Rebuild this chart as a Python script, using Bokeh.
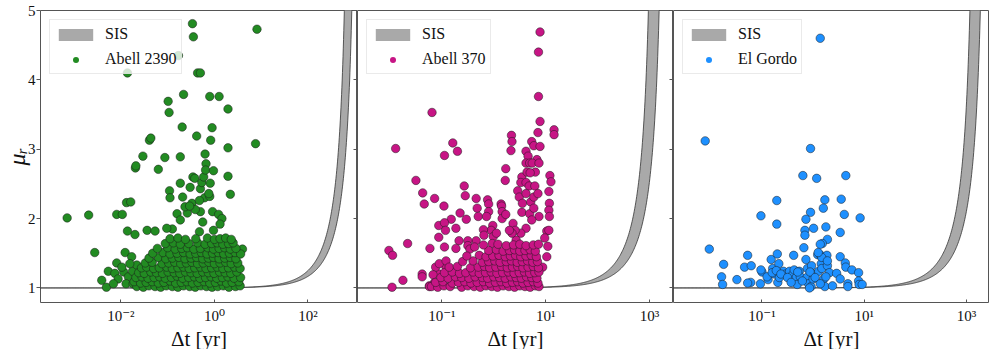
import numpy as np
from bokeh.plotting import figure
from bokeh.models import (Range1d, FixedTicker, LinearAxis, CustomJSTickFormatter,
                          Legend, LegendItem)
from bokeh.layouts import row
from bokeh.embed import file_html
from bokeh.resources import INLINE

SERIF = "'Liberation Serif', 'DejaVu Serif', serif"

# ---------------- data (log10 of time delay in yr, magnification ratio) ----------------
cluster_names = ["Abell 2390", "Abell 370", "El Gordo"]
cluster_colors = ["#228B22", "#C71585", "#1E90FF"]

y_ticks = [1, 2, 3, 4, 5]
x_ticks_a2390 = [1e-2, 1e0, 1e2]
x_ticks_a370 = [1e-1, 1e1, 1e3]
x_ticks_elgordo = [1e-1, 1e1, 1e3]

# x-limits (log10 yr) of each panel
xlim_a2390 = (-3.72, 3.06)
xlim_a370 = (-2.625, 3.46)
xlim_elgordo = (-2.73, 3.45)
mu_lim = (0.79, 5.0)

# SIS band: characteristic max time delay (yr) for lower / upper edge
sis_T_a2390 = (900, 1300)
sis_T_a370 = (1420, 2290)
sis_T_elgordo = (1750, 2800)

a2390_points = [
    (-3.15, 2.01), (-2.69, 2.05), (-2.56, 1.51), (-2.41, 1.11), (-2.31, 1.01), (-2.09, 1.36),
    (-2.09, 2.06), (-1.97, 2.06), (-1.86, 4.10), (-1.88, 2.23), (-1.79, 2.24), (-1.86, 1.82),
    (-1.70, 1.77), (-1.91, 1.51), (-1.77, 1.45), (-1.69, 2.73), (-1.68, 2.76), (-1.53, 2.90),
    (-1.44, 1.83), (-1.39, 3.13), (-1.36, 3.16), (-1.20, 2.71), (-1.06, 2.88), (-0.99, 3.69),
    (-0.97, 3.53), (-0.96, 2.40), (-0.95, 2.30), (-0.73, 2.89), (-0.73, 2.51), (-0.69, 3.32),
    (-0.66, 3.79), (-0.68, 2.31), (-0.77, 4.35), (-0.47, 4.81), (-0.45, 4.62), (-0.38, 3.19),
    (-0.36, 4.10), (-0.30, 4.10), (-0.46, 2.60), (-0.42, 2.58), (-0.52, 2.45), (-0.48, 2.22),
    (-0.30, 2.43), (-0.27, 2.52), (-0.23, 2.60), (-0.20, 2.93), (-0.18, 2.79), (-0.19, 2.70),
    (-0.21, 2.30), (-0.10, 3.76), (-0.05, 3.31), (-0.08, 3.13), (-0.09, 2.51), (-0.10, 2.32),
    (-0.02, 2.69), (0.10, 3.76), (0.29, 3.58), (0.29, 3.02), (0.29, 2.61), (0.34, 2.35),
    (0.88, 3.08), (0.91, 4.73), (-0.04, 2.10), (0.09, 2.06), (0.16, 2.00), (0.12, 1.92),
    (-0.25, 1.95), (-0.30, 2.10), (-0.41, 2.13), (-0.80, 2.07), (-0.58, 2.08), (-0.63, 2.17),
    (-0.53, 2.18), (-0.73, 1.98), (-0.90, 1.85), (-1.02, 1.86), (-1.27, 1.82), (-0.32, 1.81),
    (-0.02, 1.83), (0.41, 1.56), (0.60, 1.56), (-0.32, 2.26), (-0.12, 2.36),
    (-2.27, 1.24), (-2.13, 1.21), (-2.06, 1.13), (-2.16, 1.06), (-1.94, 1.23), (-1.84, 1.16),
    (-1.75, 1.24), (-1.89, 1.06), (-1.74, 1.06), (-1.66, 1.33), (-1.98, 1.30), (-1.81, 1.35),
    (-1.66, 1.02), (-1.52, 1.01), (-1.40, 1.03), (-1.27, 1.02), (-1.15, 1.01), (-1.03, 1.03),
    (-0.90, 1.02), (-0.78, 1.01), (-0.66, 1.03), (-0.53, 1.02), (-0.41, 1.01), (-0.29, 1.03),
    (-0.17, 1.02), (-0.05, 1.01), (0.07, 1.02), (0.19, 1.03), (0.31, 1.01), (0.45, 1.02), (0.55, 1.03),
    (-1.72, 1.09), (-1.58, 1.07), (-1.46, 1.08), (-1.33, 1.09), (-1.20, 1.07), (-1.08, 1.08),
    (-0.95, 1.10), (-0.83, 1.07), (-0.71, 1.08), (-0.59, 1.09), (-0.47, 1.07), (-0.35, 1.08),
    (-0.22, 1.09), (-0.10, 1.07), (0.02, 1.08), (0.14, 1.10), (0.26, 1.07), (0.38, 1.08), (0.52, 1.09),
    (-1.68, 1.15), (-1.55, 1.16), (-1.42, 1.14), (-1.29, 1.15), (-1.17, 1.16), (-1.05, 1.14),
    (-0.92, 1.15), (-0.80, 1.17), (-0.68, 1.14), (-0.55, 1.15), (-0.43, 1.16), (-0.31, 1.14),
    (-0.19, 1.15), (-0.07, 1.16), (0.05, 1.14), (0.17, 1.15), (0.29, 1.16), (0.42, 1.14), (0.56, 1.15),
    (-1.62, 1.22), (-1.50, 1.21), (-1.36, 1.23), (-1.24, 1.22), (-1.11, 1.21), (-0.99, 1.23),
    (-0.86, 1.22), (-0.74, 1.21), (-0.62, 1.23), (-0.50, 1.22), (-0.37, 1.21), (-0.25, 1.23),
    (-0.13, 1.22), (-0.01, 1.21), (0.11, 1.23), (0.23, 1.22), (0.35, 1.21), (0.48, 1.23),
    (-1.56, 1.29), (-1.45, 1.30), (-1.30, 1.28), (-1.18, 1.29), (-1.02, 1.30), (-0.90, 1.28),
    (-0.78, 1.29), (-0.66, 1.30), (-0.54, 1.28), (-0.42, 1.29), (-0.30, 1.30), (-0.18, 1.28),
    (-0.06, 1.29), (0.06, 1.30), (0.18, 1.28), (0.30, 1.29), (0.43, 1.30), (0.55, 1.28),
    (-1.48, 1.36), (-1.33, 1.37), (-1.12, 1.35), (-0.98, 1.36), (-0.85, 1.37), (-0.72, 1.35),
    (-0.60, 1.36), (-0.48, 1.37), (-0.36, 1.35), (-0.24, 1.36), (-0.12, 1.37), (0.00, 1.35),
    (0.12, 1.36), (0.24, 1.37), (0.36, 1.35), (0.50, 1.36),
    (-1.40, 1.43), (-1.20, 1.44), (-1.04, 1.42), (-0.90, 1.43), (-0.76, 1.44), (-0.63, 1.42),
    (-0.50, 1.43), (-0.38, 1.44), (-0.25, 1.42), (-0.13, 1.43), (-0.02, 1.44), (0.10, 1.42),
    (0.22, 1.43), (0.34, 1.44), (0.46, 1.42),
    (-1.32, 1.50), (-1.10, 1.51), (-0.95, 1.49), (-0.80, 1.50), (-0.66, 1.51), (-0.52, 1.49),
    (-0.40, 1.50), (-0.28, 1.51), (-0.16, 1.49), (-0.04, 1.50), (0.08, 1.51), (0.20, 1.49),
    (0.32, 1.50), (0.44, 1.51), (0.56, 1.49),
    (-1.22, 1.57), (-1.00, 1.58), (-0.84, 1.56), (-0.70, 1.57), (-0.58, 1.58), (-0.44, 1.56),
    (-0.30, 1.57), (-0.14, 1.58), (-0.02, 1.56), (0.10, 1.57), (0.22, 1.58), (0.34, 1.56), (0.46, 1.57),
    (-1.05, 1.64), (-0.88, 1.65), (-0.73, 1.63), (-0.55, 1.64), (-0.36, 1.65), (-0.20, 1.63),
    (-0.06, 1.64), (0.06, 1.65), (0.18, 1.63), (0.30, 1.64), (0.40, 1.65),
    (-0.95, 1.71), (-0.78, 1.72), (-0.62, 1.70), (-0.40, 1.71), (-0.15, 1.72), (0.00, 1.70),
    (0.12, 1.71), (0.24, 1.72), (0.36, 1.70),
]

a370_points = [
    (0.89, 4.69), (0.86, 4.40), (0.86, 3.76), (0.89, 3.40), (1.16, 3.28), (1.16, 3.21), (0.85, 3.24),
    (-1.19, 3.53), (-1.89, 3.01), (-0.79, 3.09), (-0.70, 2.97), (-0.95, 2.91), (0.34, 3.20),
    (0.35, 3.11), (0.33, 2.98), (0.23, 2.72), (0.22, 2.55), (0.54, 2.60), (0.73, 3.11), (0.77, 3.05),
    (0.89, 3.04), (0.83, 2.85), (0.62, 2.97), (0.66, 2.90), (0.62, 2.80), (0.69, 2.80), (0.74, 2.80),
    (0.87, 2.80), (0.80, 2.67), (0.64, 2.67), (0.70, 2.66), (0.52, 2.52), (0.62, 2.52), (0.68, 2.47),
    (0.79, 2.47), (1.08, 2.62), (1.10, 2.53), (1.06, 2.39), (1.07, 2.22), (1.06, 2.12), (1.07, 2.03),
    (1.02, 1.82), (1.06, 1.83), (0.98, 1.72), (-1.50, 2.55), (-1.37, 2.37), (-1.34, 2.21),
    (-1.14, 2.29), (-0.96, 2.18), (-0.57, 2.47), (-0.55, 2.33), (-0.65, 2.08), (-0.82, 1.99),
    (-0.53, 1.99), (-1.06, 1.90), (-0.95, 1.94), (-0.93, 1.83), (-1.06, 1.73), (-0.73, 1.86),
    (-0.95, 1.59), (-1.23, 1.57), (-1.66, 1.64), (-2.02, 1.54), (-1.95, 1.47), (-1.75, 1.11),
    (-1.96, 1.01), (-1.38, 1.20), (-1.38, 1.16), (-1.24, 1.03), (-0.34, 2.29), (-0.32, 2.15),
    (-0.30, 2.03), (-0.12, 2.27), (-0.10, 2.21), (-0.10, 2.10), (-0.14, 2.03), (0.14, 2.21),
    (0.15, 2.18), (0.16, 2.10), (0.16, 2.00), (0.46, 2.40), (0.49, 2.31), (0.55, 2.22), (0.54, 2.09),
    (0.62, 2.36), (0.71, 2.24), (0.77, 2.31), (0.85, 2.36), (0.69, 2.07), (0.77, 2.15), (0.87, 2.03),
    (0.73, 1.98), (0.62, 1.86), (0.52, 1.79), (0.43, 1.69), (-0.02, 1.90), (-0.05, 1.83),
    (-0.01, 1.74), (-0.03, 1.64), (0.05, 1.79), (0.37, 1.93), (0.41, 1.83), (0.35, 1.79), (0.23, 2.06),
    (0.30, 1.83), (-0.20, 1.84), (-0.19, 1.76), (-0.34, 1.68), (-0.50, 1.68), (-0.50, 1.61),
    (-0.46, 1.56), (-0.37, 1.59), (-0.67, 1.68), (-0.73, 1.57), (0.94, 1.30), (1.02, 1.45), (1.04, 1.60),
    (-1.24, 1.02), (-1.14, 1.08), (-1.05, 1.20), (-0.92, 1.30), (-1.12, 1.30), (-0.99, 1.13),
    (-1.17, 1.19), (-1.05, 1.35), (-0.92, 1.39),
    (-1.20, 1.02), (-1.08, 1.01), (-0.96, 1.03), (-0.84, 1.02), (-0.62, 1.01), (-0.50, 1.03),
    (-0.38, 1.02), (-0.26, 1.01), (-0.15, 1.03), (-0.04, 1.02), (0.07, 1.01), (0.18, 1.03),
    (0.29, 1.02), (0.40, 1.01), (0.50, 1.03), (0.60, 1.02), (0.70, 1.01), (0.80, 1.03), (0.87, 1.02),
    (-1.12, 1.08), (-0.98, 1.09), (-0.80, 1.07), (-0.68, 1.08), (-0.56, 1.09), (-0.44, 1.07),
    (-0.32, 1.08), (-0.20, 1.09), (-0.08, 1.07), (0.03, 1.08), (0.14, 1.09), (0.25, 1.07),
    (0.36, 1.08), (0.46, 1.09), (0.56, 1.07), (0.66, 1.08), (0.76, 1.09), (0.85, 1.07),
    (-1.02, 1.15), (-0.88, 1.14), (-0.74, 1.16), (-0.62, 1.15), (-0.48, 1.14), (-0.36, 1.16),
    (-0.22, 1.15), (-0.12, 1.14), (0.00, 1.16), (0.11, 1.15), (0.22, 1.14), (0.33, 1.16),
    (0.43, 1.15), (0.53, 1.14), (0.63, 1.16), (0.73, 1.15), (0.83, 1.14),
    (-0.95, 1.22), (-0.80, 1.23), (-0.66, 1.21), (-0.54, 1.22), (-0.40, 1.23), (-0.28, 1.21),
    (-0.16, 1.22), (-0.05, 1.23), (0.06, 1.21), (0.17, 1.22), (0.28, 1.23), (0.39, 1.21),
    (0.49, 1.22), (0.59, 1.23), (0.69, 1.21), (0.79, 1.22), (0.87, 1.23),
    (-0.86, 1.30), (-0.70, 1.31), (-0.45, 1.29), (-0.30, 1.30), (-0.18, 1.31), (-0.08, 1.29),
    (0.04, 1.30), (0.15, 1.31), (0.26, 1.29), (0.36, 1.30), (0.46, 1.31), (0.56, 1.29),
    (0.66, 1.30), (0.76, 1.31), (0.86, 1.29),
    (-0.60, 1.38), (-0.40, 1.39), (-0.22, 1.37), (-0.10, 1.38), (0.02, 1.39), (0.12, 1.37),
    (0.24, 1.38), (0.34, 1.39), (0.45, 1.37), (0.55, 1.38), (0.65, 1.39), (0.75, 1.37), (0.84, 1.38),
    (-0.52, 1.46), (-0.28, 1.47), (-0.15, 1.45), (-0.02, 1.46), (0.10, 1.47), (0.22, 1.45),
    (0.32, 1.46), (0.42, 1.47), (0.52, 1.45), (0.62, 1.46), (0.72, 1.47), (0.82, 1.45),
    (-0.10, 1.54), (0.05, 1.55), (0.18, 1.53), (0.30, 1.54), (0.40, 1.55), (0.50, 1.53),
    (0.60, 1.54), (0.70, 1.55), (0.80, 1.53),
    (-0.20, 1.62), (0.08, 1.63), (0.24, 1.61), (0.38, 1.62), (0.50, 1.63), (0.62, 1.61),
    (0.76, 1.62), (0.86, 1.63),
]

elgordo_points = [
    (0.14, 4.60), (-2.11, 3.12), (-0.05, 3.01), (-0.20, 2.62), (0.07, 2.58), (0.64, 2.62),
    (-0.71, 2.26), (0.23, 2.27), (0.55, 2.28), (-1.02, 2.04), (-0.05, 2.09), (0.20, 2.15),
    (0.61, 2.06), (0.92, 2.01), (-0.71, 1.92), (-0.14, 1.99), (-0.16, 1.83), (-0.16, 1.76),
    (0.01, 1.86), (0.25, 1.88), (0.28, 1.70), (0.53, 1.80), (0.18, 1.64), (-2.03, 1.56),
    (-1.28, 1.47), (-1.75, 1.34), (-1.79, 1.16), (-1.77, 1.05), (-1.49, 1.12), (-1.34, 1.30),
    (-1.21, 1.32), (-1.22, 1.08), (-1.03, 1.06), (-1.00, 1.23), (-0.88, 1.12), (-0.82, 1.41),
    (-0.70, 1.49), (-0.79, 1.28), (-0.75, 1.20), (-0.67, 1.35), (-0.69, 1.08), (-0.58, 1.24),
    (-0.66, 1.15), (-0.54, 1.20), (-0.46, 1.24), (-0.40, 1.19), (-0.38, 1.47), (-0.37, 1.26),
    (-0.33, 1.15), (-0.31, 1.05), (-0.27, 1.24), (-0.25, 1.16), (-0.18, 1.58), (-0.14, 1.41),
    (-0.11, 1.28), (-0.12, 1.15), (-0.09, 1.06), (-0.04, 1.02), (-0.03, 1.32), (0.01, 1.20),
    (0.00, 1.13), (0.09, 1.48), (0.11, 1.24), (0.14, 1.63), (0.15, 1.47), (0.16, 1.35),
    (0.17, 1.28), (0.21, 1.13), (0.23, 1.02), (0.27, 1.47), (0.28, 1.32), (0.32, 1.22),
    (0.25, 1.16), (0.38, 1.03), (0.46, 1.21), (0.53, 1.45), (0.53, 1.13), (0.63, 1.36),
    (0.64, 1.30), (0.68, 1.06), (0.68, 1.02), (0.76, 1.26), (0.89, 1.22), (0.89, 1.10),
    (0.90, 1.05), (0.96, 1.05), (-1.02, 1.26), (-1.28, 1.07), (-0.90, 1.16), (-0.80, 1.22),
    (-0.72, 1.25), (-0.63, 1.20), (-0.50, 1.15), (-0.43, 1.08), (-0.30, 1.23), (-0.21, 1.10),
    (-0.06, 1.23), (0.04, 1.15), (-0.07, 1.00), (0.14, 1.06), (0.17, 1.44), (0.10, 1.51),
    (0.28, 1.39),
]

AXIS_GREY = "#555555"
TICK_JS = """
const sup = {'-': '\u207b', '0': '\u2070', '1': '\u00b9', '2': '\u00b2', '3': '\u00b3',
             '4': '\u2074', '5': '\u2075', '6': '\u2076', '7': '\u2077', '8': '\u2078', '9': '\u2079'};
const e = Math.round(Math.log10(tick));
return '10' + String(e).split('').map(c => sup[c]).join('');
"""


def make_panel(name, color, points, xlim, sis_T, xticks, first, right_ticks, fw):
    ldt = np.array([p[0] for p in points])
    mu = np.array([p[1] for p in points])
    p = figure(x_axis_type="log",
               x_range=Range1d(10 ** xlim[0], 10 ** xlim[1]),
               y_range=Range1d(*mu_lim),
               frame_width=fw, frame_height=292,
               min_border_top=10, min_border_bottom=40,
               min_border_left=33 if first else 0, min_border_right=0,
               y_axis_location="left" if first else None,
               output_backend="svg", toolbar_location=None)
    p.grid.visible = False
    p.outline_line_color = AXIS_GREY
    p.outline_line_width = 1
    p.background_fill_color = "white"
    p.border_fill_color = "white"

    # SIS band (parametrised by magnification ratio)
    mu_band = 1 + np.logspace(-7, np.log10(5.5), 500)
    beta = (mu_band - 1) / (mu_band + 1)
    x_lo = sis_T[0] * beta
    x_hi = sis_T[1] * beta
    band = p.harea(x1=x_lo, x2=x_hi, y=mu_band, fill_color="#a9a9a9", fill_alpha=1.0)
    p.line(x_lo, mu_band, line_color="#333333", line_width=0.8)
    p.line(x_hi, mu_band, line_color="#333333", line_width=0.8)

    p.scatter(10 ** ldt, mu, size=8.5, fill_color=color, line_color="#1a1a1a",
              line_width=0.5)
    # legend-only copy without outline (never drawn in the plot itself)
    legend_marker = p.scatter(10 ** ldt, mu, size=6, fill_color=color, line_color=None,
                              visible=False)

    legend = Legend(items=[LegendItem(label="SIS", renderers=[band]),
                           LegendItem(label=name, renderers=[legend_marker])],
                    location="top_left", margin=9, padding=4, spacing=5,
                    label_standoff=8, glyph_width=43, glyph_height=15,
                    label_height=20,
                    label_text_font=SERIF, label_text_font_size="16px",
                    label_text_color="#111111",
                    border_line_color="#d5d5d5", border_line_width=1,
                    background_fill_color="white", background_fill_alpha=0.8)
    p.add_layout(legend)

    xa = p.xaxis[0]
    xa.ticker = FixedTicker(ticks=xticks, minor_ticks=[])
    xa.formatter = CustomJSTickFormatter(code=TICK_JS)
    xa.major_label_text_font = SERIF
    xa.major_label_text_font_size = "15px"
    xa.major_label_text_color = "#111111"
    xa.major_tick_in = 3
    xa.major_tick_out = 0
    xa.major_tick_line_color = AXIS_GREY
    xa.minor_tick_line_color = None
    xa.axis_line_color = None
    xa.major_label_standoff = 5
    xa.axis_label = "Δt [yr]"
    xa.axis_label_text_font = SERIF
    xa.axis_label_text_font_size = "21px"
    xa.axis_label_text_font_style = "normal"
    xa.axis_label_text_color = "#111111"
    xa.axis_label_standoff = 0

    if first:
        ya = p.yaxis[0]
        ya.ticker = FixedTicker(ticks=y_ticks, minor_ticks=[])
        ya.major_label_text_font = SERIF
        ya.major_label_text_font_size = "15px"
        ya.major_label_text_color = "#111111"
        ya.major_tick_out = 4
        ya.major_tick_in = 0
        ya.major_tick_line_color = AXIS_GREY
        ya.minor_tick_line_color = None
        ya.axis_line_color = None
        ya.major_label_standoff = 1
        ya.axis_label = "μᵣ"
        ya.axis_label_text_font = SERIF
        ya.axis_label_text_font_size = "24px"
        ya.axis_label_text_font_style = "italic"
        ya.axis_label_text_color = "#111111"
        ya.axis_label_standoff = -5

    if right_ticks:
        ra = LinearAxis(ticker=FixedTicker(ticks=y_ticks, minor_ticks=[]),
                        formatter=CustomJSTickFormatter(code="return '';"),
                        major_tick_in=4, major_tick_out=0,
                        major_label_text_font_size="0px", major_label_standoff=0,
                        axis_line_color=None, minor_tick_line_color=None,
                        major_tick_line_color=AXIS_GREY)
        p.add_layout(ra, "right")
    return p


p1 = make_panel(cluster_names[0], cluster_colors[0], a2390_points, xlim_a2390, sis_T_a2390,
                x_ticks_a2390, True, True, 317)
p2 = make_panel(cluster_names[1], cluster_colors[1], a370_points, xlim_a370, sis_T_a370,
                x_ticks_a370, False, True, 316)
p3 = make_panel(cluster_names[2], cluster_colors[2], elgordo_points, xlim_elgordo, sis_T_elgordo,
                x_ticks_elgordo, False, False, 316)

layout = row(p1, p2, p3, spacing=0)
open("out.html", "w").write(file_html(layout, INLINE))
